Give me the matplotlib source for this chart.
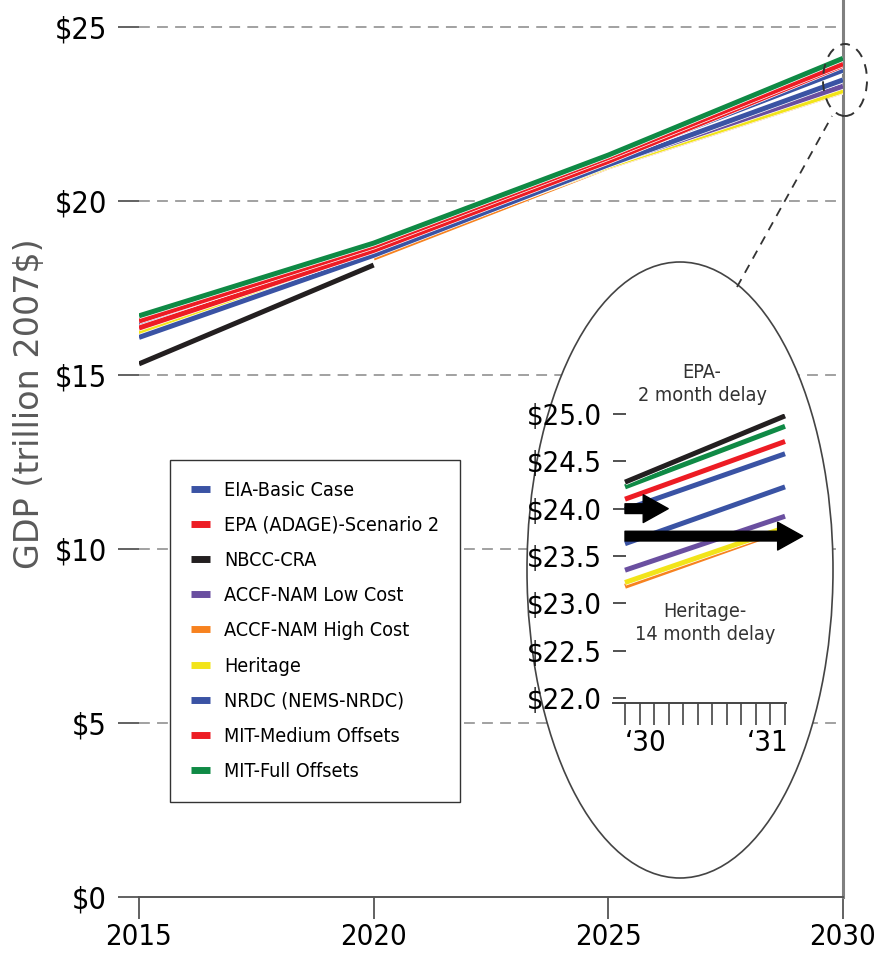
import numpy as np
import matplotlib
matplotlib.use('Agg')
import matplotlib.pyplot as plt
import matplotlib.patheffects as pe
from matplotlib import font_manager as fm
from matplotlib.patches import Ellipse
from matplotlib.lines import Line2D

# data (GDP, trillion 2007$)
years = [2015, 2020, 2025, 2030]
nan = np.nan

series_names = ['EIA-Basic Case', 'EPA (ADAGE)-Scenario 2', 'NBCC-CRA',
                'ACCF-NAM Low Cost', 'ACCF-NAM High Cost', 'Heritage',
                'NRDC (NEMS-NRDC)', 'MIT-Medium Offsets', 'MIT-Full Offsets']
series_colors = ['#3a53a4', '#ed1c24', '#231f20', '#6a4fa0', '#f7821f',
                 '#f2e41a', '#3a53a4', '#ed1c24', '#0f8a45']

eia = [16.45, 18.62, 21.18, 23.76]
epa = [16.35, 18.58, 21.14, 23.90]
nbcc = [15.32, 18.16, nan, nan]
accf_low = [nan, 18.47, 21.05, 23.30]
accf_high = [nan, 18.36, 20.98, 23.15]
heritage = [16.20, 18.50, 21.00, 23.17]
nrdc = [16.08, 18.44, 21.04, 23.48]
mit_med = [16.55, 18.70, 21.25, 23.94]
mit_full = [16.70, 18.79, 21.32, 24.10]

y_ticks = [0, 5, 10, 15, 20, 25]
y_labels = ['$0', '$5', '$10', '$15', '$20', '$25']

# zoomed inset: '30 -> '31
inset_x = [0, 1]
inset_black = [24.28, 24.98]
inset_green = [24.23, 24.87]
inset_red = [24.10, 24.71]
inset_blue = [23.99, 24.58]
inset_blue2 = [23.63, 24.23]
inset_purple = [23.35, 23.92]
inset_yellow = [23.22, 23.80]
inset_orange = [23.18, 23.78]
inset_yticks = [22.0, 22.5, 23.0, 23.5, 24.0, 24.5, 25.0]
arrow_epa = [0, 0.27, 24.0]
arrow_heritage = [0, 1.11, 23.71]

W, H = 877, 955


# pick a narrow sans face if one is installed
def narrow_font():
    paths = [f.fname for f in fm.fontManager.ttflist]
    for key in ['LiberationSansNarrow-Regular', 'DejaVuSansCondensed.ttf',
                'RobotoCondensed-Regular', 'Condensed-Regular']:
        for p in paths:
            if key in p:
                return fm.FontProperties(fname=p)
    return fm.FontProperties(family='DejaVu Sans', stretch='condensed')


NARROW = narrow_font()


def nfont(size):
    fp = NARROW.copy()
    fp.set_size(size)
    return fp


def fx(px):
    return px / W


def fy(py):
    return 1 - py / H


fig = plt.figure(figsize=(W / 100, H / 100), dpi=100)
ax = fig.add_axes([fx(139), fy(897), fx(843) - fx(139), 897 / H])

values = [eia, epa, nbcc, accf_low, accf_high, heritage, nrdc, mit_med, mit_full]
draw_order = [4, 5, 3, 6, 0, 1, 7, 8, 2]
for i in draw_order:
    ax.plot(years, values[i], color=series_colors[i], lw=3.6, solid_capstyle='butt',
            path_effects=[pe.Stroke(linewidth=4.6, foreground='white'), pe.Normal()],
            zorder=3)

ax.set_xlim(2015, 2030)
ax.set_ylim(0, 25 + 27 / 34.8)

for y in y_ticks[1:]:
    ax.axhline(y, color='#9a9a9a', lw=1.3, ls=(0, (6, 4)), zorder=1)

ax.spines['left'].set_visible(False)
ax.spines['top'].set_visible(False)
ax.spines['bottom'].set_color('#555555')
ax.spines['bottom'].set_linewidth(1.4)
ax.spines['right'].set_color('#808080')
ax.spines['right'].set_linewidth(2.2)

ax.set_yticks(y_ticks)
ax.set_yticklabels(y_labels, fontproperties=nfont(22))
ax.set_xticks(years)
ax.set_xticklabels([str(y) for y in years], fontproperties=nfont(21))
ax.tick_params(axis='y', length=15, width=1.3, color='#555555', pad=8)
ax.tick_params(axis='x', length=16, width=1.3, color='#555555', pad=3)

fig.text(fx(30), fy(404), 'GDP (trillion 2007$)', rotation=90, ha='center', va='center',
         fontsize=24, color='#5a5a5a', family='DejaVu Sans')

handles = [Line2D([], [], color=c, lw=5, solid_capstyle='butt') for c in series_colors]
leg = ax.legend(handles, series_names, loc='upper left',
                bbox_to_anchor=(fx(170), fy(460)), bbox_transform=fig.transFigure,
                fancybox=False, edgecolor='#333333', framealpha=1,
                prop=nfont(14.2), handlelength=1.0,
                handletextpad=0.7, labelspacing=0.82, borderpad=1.05, borderaxespad=0)
leg.get_frame().set_linewidth(1.0)

# big ellipse for the zoom view
fig.add_artist(Ellipse((fx(680), fy(570)), 306 / W, 616 / H, transform=fig.transFigure,
                       facecolor='white', edgecolor='#444444', lw=1.2, zorder=2))
# small dashed ellipse at 2030 and the pointer line
fig.add_artist(Ellipse((fx(845), fy(80)), 44 / W, 72 / H, transform=fig.transFigure,
                       facecolor='none', edgecolor='#333333', lw=1.4, ls=(0, (5, 4)), zorder=4))
fig.add_artist(Line2D([fx(737), fx(832)], [fy(287), fy(116)], transform=fig.transFigure,
                      color='#333333', lw=1.3, ls=(0, (5, 4)), zorder=4))

ax2 = fig.add_axes([fx(613), fy(703), fx(786) - fx(613), (703 - 414) / H])
ax2.set_zorder(5)
ax2.patch.set_visible(False)
inset_lines = [(inset_orange, '#f7821f'), (inset_yellow, '#f2e41a'),
               (inset_purple, '#6a4fa0'), (inset_blue2, '#3a53a4'),
               (inset_blue, '#3a53a4'), (inset_red, '#ed1c24'),
               (inset_green, '#0f8a45'), (inset_black, '#231f20')]
for vals, c in inset_lines:
    ax2.plot(inset_x, vals, color=c, lw=3.6, solid_capstyle='butt',
             path_effects=[pe.Stroke(linewidth=4.6, foreground='white'), pe.Normal()])

for x0, x1, y in [arrow_epa, arrow_heritage]:
    ax2.annotate('', xy=(x1, y), xytext=(x0, y), annotation_clip=False,
                 arrowprops=dict(arrowstyle='simple,head_length=0.9,head_width=1.0,tail_width=0.35',
                                 mutation_scale=20, fc='black', ec='black', shrinkA=0, shrinkB=0))

ax2.set_xlim(-0.075, 1.006)
ax2.set_ylim(21.947, 25.0)
for s in ['left', 'top', 'right']:
    ax2.spines[s].set_visible(False)
ax2.spines['bottom'].set_color('#444444')
ax2.spines['bottom'].set_linewidth(1.4)
ax2.set_yticks(inset_yticks)
ax2.set_yticklabels(['$%.1f' % v for v in inset_yticks], fontproperties=nfont(21))
ax2.tick_params(axis='y', direction='in', length=9, width=1.2, color='#333333', pad=8)
ax2.set_xticks(np.linspace(0, 1, 12))
ax2.set_xticklabels([])
ax2.tick_params(axis='x', length=16, width=1.2, color='#444444')
ax2.text(0, -0.09, '\u201830', transform=ax2.get_xaxis_transform(), ha='left', va='top',
         fontproperties=nfont(21))
ax2.text(1.02, -0.09, '\u201831', transform=ax2.get_xaxis_transform(), ha='right', va='top',
         fontproperties=nfont(21))

fig.text(fx(702), fy(384), 'EPA-\n2 month delay', ha='center', va='center',
         fontproperties=nfont(14.2), color='#333333', linespacing=1.3, zorder=6)
fig.text(fx(705), fy(623), 'Heritage-\n14 month delay', ha='center', va='center',
         fontproperties=nfont(14.2), color='#333333', linespacing=1.3, zorder=6)

fig.savefig('out.png', dpi=100)
